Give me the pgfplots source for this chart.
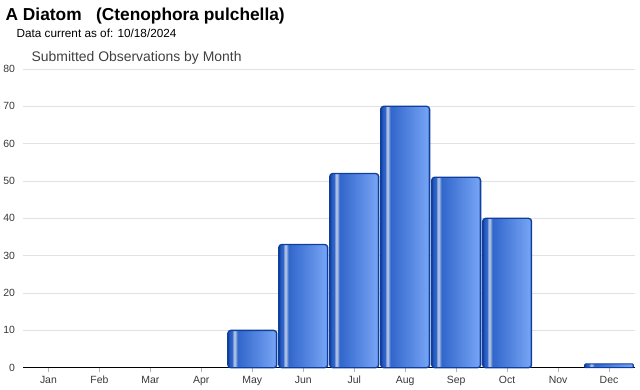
\documentclass[border=0pt]{standalone}
\usepackage{fontspec}
\setmainfont{Liberation Sans}
\usepackage{pgfplots}
\pgfplotsset{compat=1.18}
\definecolor{bdark}{HTML}{0E3F9E}
\definecolor{bhigh}{HTML}{A9BEE2}
\definecolor{bmid}{HTML}{3166CB}
\definecolor{bmidd}{HTML}{285BC0}
\definecolor{blight}{HTML}{72A0F2}
\definecolor{gridc}{HTML}{E2E2E2}
\pgfdeclarehorizontalshading{barshade}{100bp}{color(0bp)=(bdark); color(25bp)=(bdark); color(27bp)=(bmidd); color(29.5bp)=(bmid); color(31bp)=(bhigh); color(32.5bp)=(bhigh); color(35bp)=(bmid); color(71.5bp)=(blight); color(73bp)=(blight); color(75bp)=(bdark); color(100bp)=(bdark)}
\pgfplotsset{mybar/.style={ybar, bar width=0.96, bar shift=0pt, draw=bdark, solid, mark=none, line width=1.3bp, shading=barshade, rounded corners=3bp}}
\begin{document}
\begin{tikzpicture}[x=1bp,y=1bp]
\path (0,0) rectangle (640,390);
\node[anchor=base west, inner sep=0, font=\fontsize{17.4}{19}\selectfont\bfseries] at (5,369) {A Diatom\ \ \ (Ctenophora pulchella)};
\node[anchor=base west, inner sep=0, font=\fontsize{11.8}{14}\selectfont] at (16,352) {Data current as of: 10/18/2024};
\node[anchor=base west, inner sep=0, text=black!75, font=\fontsize{14}{16}\selectfont] at (31,328) {Submitted Observations by Month};
\begin{axis}[
  at={(22.5bp,22bp)}, anchor=south west, scale only axis,
  width=612bp, height=299bp,
  xmin=-0.5, xmax=11.5, ymin=0, ymax=80,
  ytick={0,10,...,80},
  xtick={0,...,11},
  xticklabels={Jan,Feb,Mar,Apr,May,Jun,Jul,Aug,Sep,Oct,Nov,Dec},
  axis x line*=bottom, axis y line*=left,
  x axis line style={black, line width=1.5bp, -},
  y axis line style={draw=none},
  ymajorgrids, grid style={gridc, line width=0.8bp},
  tick align=outside,
  major tick length=4bp,
  xtick style={draw=gray!60},
  ytick style={draw=none},
  /pgf/number format/assume math mode=true,
  tick label style={font=\fontsize{10.5}{11}\selectfont, text=black!78},
  yticklabel style={xshift=-0.5bp},
  xticklabel style={yshift=-1bp},
  clip=false,
]
\addplot[mybar] coordinates {(4,10)};
\addplot[mybar] coordinates {(5,33)};
\addplot[mybar] coordinates {(6,52)};
\addplot[mybar] coordinates {(7,70)};
\addplot[mybar] coordinates {(8,51)};
\addplot[mybar] coordinates {(9,40)};
\addplot[mybar, rounded corners=1bp, line width=1bp] coordinates {(11,1)};
\end{axis}
\end{tikzpicture}
\end{document}
